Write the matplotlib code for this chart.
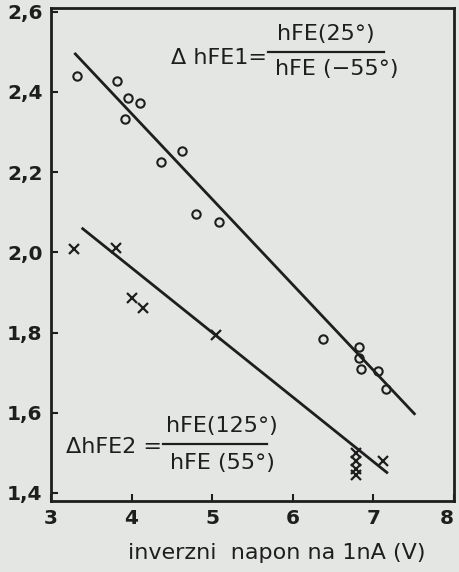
import matplotlib
matplotlib.use("Agg")
import matplotlib.pyplot as plt
from matplotlib.lines import Line2D

# data
x_circ = [3.32, 3.82, 3.96, 4.10, 3.92, 4.36, 4.62, 4.80, 5.09, 6.37, 6.82, 6.82, 6.85, 7.06, 7.16]
y_circ = [2.44, 2.427, 2.385, 2.373, 2.333, 2.226, 2.253, 2.096, 2.076, 1.785, 1.765, 1.737, 1.708, 1.705, 1.658]
x_cross = [3.28, 3.81, 4.00, 4.14, 5.05, 6.78, 6.78, 6.78, 6.78, 7.12]
y_cross = [2.009, 2.011, 1.887, 1.86, 1.795, 1.50, 1.48, 1.46, 1.445, 1.479]
line1_x = [3.29, 7.52]
line1_y = [2.497, 1.595]
line2_x = [3.38, 7.18]
line2_y = [2.061, 1.449]
xticks = [3, 4, 5, 6, 7, 8]
yticks = [1.4, 1.6, 1.8, 2.0, 2.2, 2.4, 2.6]
ytick_labels = ["1,4", "1,6", "1,8", "2,0", "2,2", "2,4", "2,6"]

W, H = 459, 572
bg = "#e4e6e4"
ink = "#1e1e1e"
fig = plt.figure(figsize=(W / 100, H / 100), dpi=100, facecolor=bg)
ax = fig.add_axes([51 / W, 1 - 501 / H, (454 - 51) / W, (501 - 8) / H], facecolor=bg)

ax.plot(line1_x, line1_y, color=ink, lw=2.0, solid_capstyle="butt")
ax.plot(line2_x, line2_y, color=ink, lw=2.0, solid_capstyle="butt")
ax.plot(x_circ, y_circ, "o", ms=6, mfc="none", mec=ink, mew=1.5)
ax.plot(x_cross, y_cross, "x", ms=7, mec=ink, mew=1.6)

ax.set_xlim(3, 8)
ax.set_ylim(1.38, 2.609)
ax.set_xticks(xticks)
ax.set_xticklabels([str(t) for t in xticks], fontsize=14.5, fontweight="bold", color=ink)
ax.set_yticks(yticks)
ax.set_yticklabels(ytick_labels, fontsize=14.5, fontweight="bold", color=ink)
ax.tick_params(direction="in", length=5, width=1.5, colors=ink, pad=6)
xl = ax.get_xticklabels()
xl[-1].set_ha("right")
xl[-1].set_x(8)
for s in ax.spines.values():
    s.set_linewidth(2.0)
    s.set_color(ink)
ax.set_xlabel("inverzni  napon na 1nA (V)", fontsize=16, color=ink)
ax.xaxis.set_label_coords((277 - 51) / 403, (501 - 553) / 493)
ax.xaxis.label.set_va("center")


def ftext(px, py, s, ha="center", size=16):
    fig.text(px / W, 1 - py / H, s, ha=ha, va="center", fontsize=size, color=ink)


def fbar(x0, x1, py):
    fig.add_artist(Line2D([x0 / W, x1 / W], [1 - py / H, 1 - py / H],
                          color=ink, lw=1.6, transform=fig.transFigure))


# formula 1
ftext(267, 58, "Δ hFE1=", ha="right")
ftext(326, 34, "hFE(25°)")
fbar(268, 384, 52)
ftext(337, 69, "hFE (−55°)")

# formula 2
ftext(162, 447, "ΔhFE2 =", ha="right")
ftext(222, 426, "hFE(125°)")
fbar(163, 267, 444)
ftext(222, 463, "hFE (55°)")

fig.savefig("out.png", dpi=100, facecolor=bg)
